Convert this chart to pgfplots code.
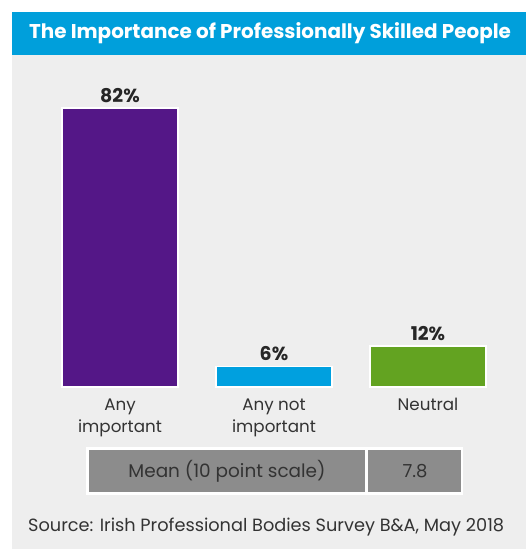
\documentclass[border=0pt]{standalone}
\usepackage{fontspec}
\setmainfont{Poppins}
\usepackage{pgfplots}
\pgfplotsset{compat=1.18}

\definecolor{titleblue}{HTML}{009FDB}
\definecolor{panelgrey}{HTML}{EEEEEE}
\definecolor{barpurple}{HTML}{541787}
\definecolor{barblue}{HTML}{00A0DF}
\definecolor{bargreen}{HTML}{63A321}
\definecolor{cellgrey}{HTML}{8C8C8C}
\definecolor{txt}{HTML}{333333}

\begin{document}
\begin{tikzpicture}[x=1bp,y=1bp]
  % page frame, background panel and title bar
  \fill[white] (0,0) rectangle (526,550);
  \fill[panelgrey] (12,1) rectangle (526,495);
  \fill[titleblue] (12,495) rectangle (526,538);
  \node[text=white, font=\fontsize{20}{22}\selectfont\bfseries] at (270,517)
    {The Importance of Professionally Skilled People};

  \begin{axis}[
    at={(43bp,163bp)}, anchor=south west,
    scale only axis,
    width=462bp, height=306bp,
    xmin=-0.5, xmax=2.5,
    ymin=0, ymax=90,
    clip=false,
    axis line style={draw=none},
    major tick length=0pt,
    ytick=\empty,
    xtick={0,1,2},
    xticklabels={{Any\\important},{Any not\\important},{Neutral}},
    xticklabel style={align=center, text=txt, anchor=north, yshift=-8bp,
      font=\fontsize{16.8}{22}\selectfont},
    ybar, bar width=116bp, bar shift=0pt,
    point meta=explicit symbolic,
    nodes near coords,
    every node near coord/.append style={text=black!85,
      font=\fontsize{19}{20}\selectfont\bfseries, yshift=1.5bp},
  ]
    \addplot[fill=barpurple, draw=white, line width=1.8bp]
      coordinates {(0,82) [82\%]};
    \addplot[fill=barblue, draw=white, line width=1.8bp]
      coordinates {(1,6) [6\%]};
    \addplot[fill=bargreen, draw=white, line width=1.8bp]
      coordinates {(2,12) [12\%]};
  \end{axis}

  % mean table
  \fill[white] (86,55) rectangle (463,103);
  \fill[cellgrey] (89,58) rectangle (365,100);
  \fill[cellgrey] (368,58) rectangle (461,100);
  \node[text=txt, font=\fontsize{18.5}{20}\selectfont] at (227,79) {Mean (10 point scale)};
  \node[text=txt, font=\fontsize{18}{20}\selectfont] at (415,79) {7.8};

  % source
  \node[anchor=west, inner sep=0pt, text=txt, font=\fontsize{17.8}{20}\selectfont]
    at (28,23) {Source: Irish Professional Bodies Survey B\&A, May 2018};
\end{tikzpicture}
\end{document}
